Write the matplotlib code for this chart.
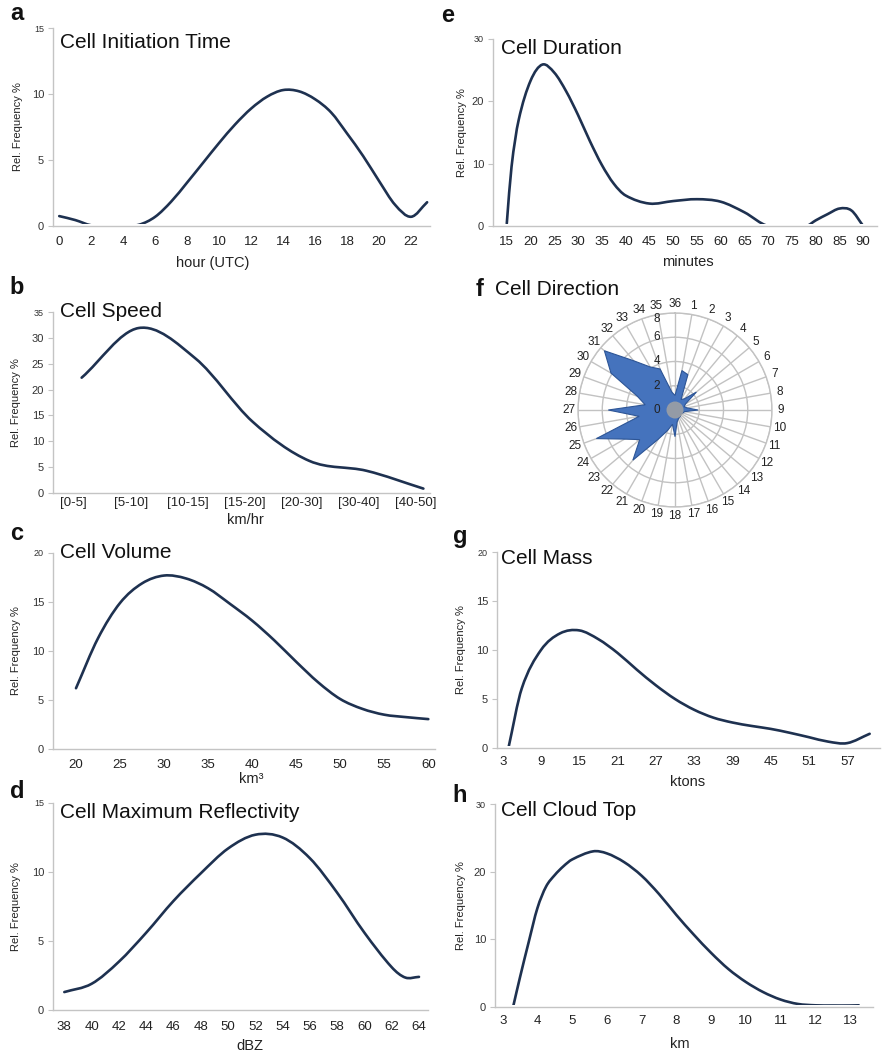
import numpy as np
import matplotlib
matplotlib.use("Agg")
import matplotlib.pyplot as plt
from matplotlib.path import Path
from matplotlib.patches import PathPatch
from matplotlib.transforms import Bbox, TransformedBbox, ScaledTranslation, offset_copy

plt.rcParams['font.family'] = ['Liberation Sans', 'DejaVu Sans']

# ---------------- data ----------------
# a: Cell Initiation Time
init_hour = [0, 1, 2, 3, 4, 5, 6, 7, 8, 9, 10, 11, 12, 13, 14, 15, 16, 17, 18, 19, 20, 21, 22, 23]
init_freq = [0.75, 0.45, 0.05, 0.0, 0.0, 0.1, 0.7, 1.85, 3.3, 4.8, 6.3, 7.7, 8.9, 9.8, 10.3, 10.2,
             9.6, 8.6, 7.0, 5.3, 3.4, 1.6, 0.7, 1.8]
init_ticks = [0, 2, 4, 6, 8, 10, 12, 14, 16, 18, 20, 22]

# b: Cell Speed
speed_labels = ['[0-5]', '[5-10]', '[10-15]', '[15-20]', '[20-30]', '[30-40]', '[40-50]']
speed_freq = [22.3, 31.9, 26.0, 13.8, 6.2, 4.3, 0.85]

# c: Cell Volume
vol_km3 = [20, 22.5, 25, 27.5, 30, 32.5, 35, 37.5, 40, 42.5, 45, 47.5, 50, 52.5, 55, 57.5, 60]
vol_freq = [6.2, 11.3, 14.9, 16.9, 17.7, 17.4, 16.4, 14.8, 13.1, 11.1, 8.9, 6.8, 5.1, 4.1, 3.5, 3.25, 3.05]
vol_ticks = [20, 25, 30, 35, 40, 45, 50, 55, 60]

# d: Cell Maximum Reflectivity
refl_dbz = [38, 40, 42, 44, 46, 48, 50, 52, 54, 56, 58, 60, 62, 63, 64]
refl_freq = [1.3, 1.9, 3.5, 5.6, 7.9, 9.9, 11.7, 12.7, 12.5, 11.0, 8.5, 5.6, 3.1, 2.35, 2.4]
refl_ticks = list(range(38, 65, 2))

# e: Cell Duration
dur_min = [15, 16, 17.5, 20, 22.5, 25, 27.5, 30, 32.5, 35, 37.5, 40, 45, 50, 55, 60, 65, 70, 78,
           80, 82.5, 85, 87.5, 90]
dur_freq = [0.4, 9.5, 17.0, 23.3, 25.9, 24.6, 21.6, 17.8, 13.6, 9.8, 6.8, 4.9, 3.6, 4.0, 4.3, 3.9,
            2.2, 0.0, 0.0, 0.9, 1.9, 2.8, 2.5, 0.0]
dur_ticks = list(range(15, 91, 5))

# f: Cell Direction (36 sectors, 10 degrees each)
dir_labels = list(range(1, 37))
dir_freq = [3.3, 3.1, 1.0, 1.2, 2.3, 1.0, 0.8, 1.0, 1.9, 0.8, 0.7, 0.6, 0.6, 0.7, 0.7, 0.8, 1.0, 2.2,
            1.2, 1.8, 2.8, 5.4, 3.8, 4.8, 6.9, 3.0, 5.5, 2.5, 3.3, 6.1, 7.6, 5.3, 4.1, 3.6, 1.5, 1.2]

# g: Cell Mass
mass_kt = [3.9, 6, 9, 12, 15, 18, 21, 24, 27, 30, 33, 36, 39, 42, 45, 48, 51, 54, 57, 60.5]
mass_freq = [0.0, 6.1, 10.0, 11.7, 12.0, 11.1, 9.7, 8.0, 6.4, 5.0, 3.9, 3.1, 2.6, 2.25, 1.95, 1.55,
             1.1, 0.65, 0.5, 1.45]
mass_ticks = list(range(3, 58, 6))

# h: Cell Cloud Top
top_km = [3.3, 3.5, 3.75, 4, 4.25, 4.5, 4.75, 5, 5.6, 6, 6.5, 7, 7.5, 8, 8.5, 9, 9.5, 10, 10.5, 11,
          11.5, 12, 12.5, 13, 13.25]
top_freq = [0.0, 4.4, 9.6, 14.6, 17.8, 19.5, 20.8, 21.8, 23.0, 22.7, 21.4, 19.4, 16.7, 13.6, 10.7,
            8.0, 5.6, 3.7, 2.2, 1.1, 0.45, 0.25, 0.22, 0.22, 0.25]
top_ticks = list(range(3, 14))

# ---------------- figure ----------------
W, H = 889, 1058
fig = plt.figure(figsize=(W / 100, H / 100), dpi=100)

LINE = '#1e3150'
SPINE = '#c4c4c4'
TXT = '#222222'


def px_axes(l, t, r, b, **kw):
    return fig.add_axes([l / W, 1 - b / H, (r - l) / W, (b - t) / H], **kw)


def ftext(x, y, s, **kw):
    return fig.text(x / W, 1 - y / H, s, **kw)


def smooth_line(ax, x, y):
    x = np.asarray(x, float)
    y = np.asarray(y, float)
    n = len(x)
    m = np.empty(n)
    m[1:-1] = (y[2:] - y[:-2]) / (x[2:] - x[:-2])
    m[0] = (y[1] - y[0]) / (x[1] - x[0])
    m[-1] = (y[-1] - y[-2]) / (x[-1] - x[-2])
    verts = [(x[0], y[0])]
    codes = [Path.MOVETO]
    for i in range(n - 1):
        h = x[i + 1] - x[i]
        verts += [(x[i] + h / 3, y[i] + m[i] * h / 3),
                  (x[i + 1] - h / 3, y[i + 1] - m[i + 1] * h / 3),
                  (x[i + 1], y[i + 1])]
        codes += [Path.CURVE4] * 3
    patch = PathPatch(Path(verts, codes), fill=False, edgecolor=LINE, lw=1.9,
                      capstyle='round', joinstyle='round', zorder=3)
    ax.add_patch(patch)
    clip = TransformedBbox(Bbox([[-0.05, 0.0], [1.05, 1.3]]),
                           ax.transAxes + ScaledTranslation(0, 1.8 / 100, fig.dpi_scale_trans))
    patch.set_clip_box(clip)


def style(ax, xlim, ylim, yticks, xticks, xticklabels=None, xpad=5):
    for s in ['top', 'right']:
        ax.spines[s].set_visible(False)
    for s in ['left', 'bottom']:
        ax.spines[s].set_color(SPINE)
        ax.spines[s].set_linewidth(1.0)
    ax.set_xlim(*xlim)
    ax.set_ylim(*ylim)
    ax.tick_params(axis='y', length=3.5, width=0.8, color=SPINE, pad=3, labelsize=8, labelcolor='#333333')
    ax.tick_params(axis='x', length=0, pad=xpad, labelsize=9.5, labelcolor=TXT)
    ax.set_yticks(yticks)
    ax.set_yticklabels([str(v) for v in yticks])
    ax.get_yticklabels()[-1].set_fontsize(6.5)
    ax.set_xticks(xticks)
    if xticklabels is None:
        xticklabels = [str(v) for v in xticks]
    ax.set_xticklabels(xticklabels)
    ax.patch.set_alpha(0)


def decorate(letter, lx, ly, title, tx, ty, ylab_x, ax_top, ax_bot, xlabel, xlx, xly):
    ftext(lx, ly, letter, fontsize=17, fontweight='bold', ha='center', va='center', color='#111111')
    ftext(tx, ty, title, fontsize=15, ha='left', va='center', color='#111111')
    ftext(ylab_x, (ax_top + ax_bot) / 2, 'Rel. Frequency %', fontsize=8, rotation=90,
          ha='center', va='center', color=TXT)
    ftext(xlx, xly, xlabel, fontsize=10.5, ha='center', va='center', color=TXT)


# a
ax = px_axes(53, 28, 430, 226)
smooth_line(ax, init_hour, init_freq)
style(ax, (-0.39, 23.18), (0, 15), [0, 5, 10, 15], init_ticks, xpad=7)
decorate('a', 17, 14, 'Cell Initiation Time', 60, 42, 18, 28, 226, 'hour (UTC)', 213, 263)

# e
ax = px_axes(493, 39, 877, 226)
smooth_line(ax, dur_min, dur_freq)
style(ax, (12.1, 92.9), (0, 30), [0, 10, 20, 30], dur_ticks, xpad=7)
decorate('e', 448, 15, 'Cell Duration', 501, 49, 462, 39, 226, 'minutes', 688, 262)

# b
ax = px_axes(53, 312, 430, 493)
speed_idx = list(range(len(speed_labels)))
smooth_line(ax, speed_idx, speed_freq)
style(ax, (-0.503, 6.116), (0, 35), [0, 5, 10, 15, 20, 25, 30, 35],
      [i - 0.14 for i in speed_idx], speed_labels, xpad=3)
decorate('b', 17, 287, 'Cell Speed', 60, 312, 16, 312, 493, 'km/hr', 245, 520)

# c
ax = px_axes(53, 553, 435, 749)
smooth_line(ax, vol_km3, vol_freq)
style(ax, (17.39, 60.76), (0, 20), [0, 5, 10, 15, 20], vol_ticks, xpad=7)
decorate('c', 17, 534, 'Cell Volume', 60, 553, 16, 553, 749, 'km³', 251, 779)

# d
ax = px_axes(53, 803, 428, 1010)
smooth_line(ax, refl_dbz, refl_freq)
style(ax, (37.17, 64.66), (0, 15), [0, 5, 10, 15], refl_ticks, xpad=8)
decorate('d', 17, 792, 'Cell Maximum Reflectivity', 60, 812, 16, 803, 1010, 'dBZ', 250, 1046)

# g
ax = px_axes(497, 552, 880, 748)
smooth_line(ax, mass_kt, mass_freq)
style(ax, (2.11, 62.12), (0, 20), [0, 5, 10, 15, 20], mass_ticks, xpad=6)
decorate('g', 460, 537, 'Cell Mass', 501, 558, 461, 552, 748, 'ktons', 688, 782)

# h
ax = px_axes(495, 804, 873, 1007)
smooth_line(ax, top_km, top_freq)
style(ax, (2.78, 13.66), (0, 30), [0, 10, 20, 30], top_ticks, xpad=6)
decorate('h', 460, 795, 'Cell Cloud Top', 501, 810, 461, 804, 1007, 'km', 680, 1044)

# f: radar
R = 97
cx, cy = 675, 410
pax = px_axes(cx - R, cy - R, cx + R, cy + R, projection='polar')
pax.set_theta_zero_location('N')
pax.set_theta_direction(-1)
pax.set_ylim(0, 8)
theta = np.deg2rad(np.array(dir_labels) * 10.0)
pax.set_thetagrids(np.array(dir_labels) * 10.0, labels=[''] * len(dir_labels))
pax.set_rgrids([2, 4, 6, 8], labels=[''] * 4)
pax.grid(True, color='#c2c2c2', lw=1.0)
pax.spines['polar'].set_color('#c2c2c2')
pax.spines['polar'].set_linewidth(1.0)
pax.tick_params(axis='both', length=0)
tc = np.append(theta, theta[0])
rc = np.append(dir_freq, dir_freq[0])
pax.fill(tc, rc, facecolor='#4573bd', edgecolor='#2d5596', lw=0.8, zorder=3)
pax.scatter([0], [0], s=150, color='#a3a3a3', alpha=0.85, zorder=4, edgecolors='none')
for t, lab in zip(theta, dir_labels):
    pax.text(t, 8.75, str(lab), ha='center', va='center', fontsize=8.5, color=TXT, zorder=5)
for rv in [0, 2, 4, 6, 8]:
    dy = -6 if rv == 8 else 0
    pax.text(0, rv, str(rv), transform=offset_copy(pax.transData, fig, x=-15, y=dy, units='dots'),
             ha='right', va='center', fontsize=8.5, color=TXT, zorder=6)
ftext(480, 289, 'f', fontsize=17, fontweight='bold', ha='center', va='center', color='#111111')
ftext(495, 289, 'Cell Direction', fontsize=15, ha='left', va='center', color='#111111')

fig.savefig('out.png', dpi=100)
